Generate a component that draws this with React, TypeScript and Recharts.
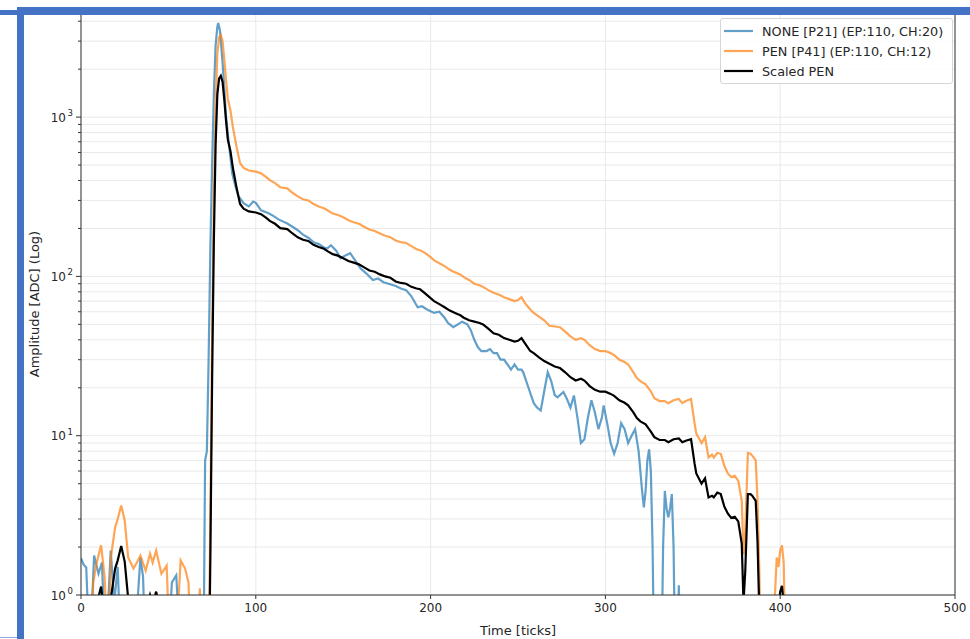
import React from "react";
import { LineChart, Line, XAxis, YAxis, CartesianGrid, Legend, ReferenceLine } from "recharts";

const FONT = "'DejaVu Sans', sans-serif";

// NONE [P21]
const noneT = [
  0, 1.5, 3, 5, 7.5, 10, 12, 14, 17, 19, 21, 23, 25, 30, 32, 34, 35.5, 37, 45, 50, 52, 54.5, 57, 62, 66,
  69, 70, 71, 72, 73, 74, 75, 76, 77, 78, 78.5, 79.5, 81, 82, 83, 84.5, 86.5, 88, 90, 93, 96, 98.5, 100,
  103, 107, 110, 113, 118, 121, 124, 127, 130, 133, 136, 139, 141, 143, 146, 148.5, 151, 154, 157, 160,
  163, 165, 167, 170, 173, 176, 180, 183, 186, 189, 192.6, 195, 198, 202, 205, 208, 210, 213, 215.6, 218,
  221, 223, 225, 227, 229, 232, 234, 236, 238, 240, 242, 244, 246, 248, 250, 252, 253, 256, 259, 261, 263,
  265, 267, 269, 271, 272.6, 274, 276, 278, 280, 282, 284, 286, 288, 290, 292, 294, 296, 298, 299, 301,
  303, 305, 307, 309, 311, 313, 315, 317, 319, 321, 322, 323, 324, 325, 326, 327, 328, 332, 333, 334, 335,
  336, 337, 338, 339, 340, 341, 342, 343, 350,
];
const noneV = [
  1.7, 1.55, 1.49, 0.4, 1.77, 1.36, 1.6, 0.4, 1.9, 0.9, 1.5, 0.4, 0.3, 0.3, 0.8, 1.72, 1.3, 0.4, 0.3, 0.5,
  1.2, 1.33, 0.4, 0.3, 0.4, 0.5, 0.3, 7, 8, 30, 150, 500, 1400, 2800, 3700, 3900, 3500, 2200, 1500, 1000,
  700, 444, 380, 320, 288, 275, 295, 290, 260, 250, 240, 228, 215, 205, 195, 183, 175, 164, 160, 152, 150,
  157, 145, 130, 135, 140, 125, 112, 105, 100, 95, 97, 92, 90, 87, 84, 82, 75, 64, 65, 62, 59, 60, 55, 51,
  48, 50, 52, 50, 46, 40, 36, 34, 34, 35, 33, 33, 30, 30, 28, 26, 28, 26, 26, 25, 20, 16, 15, 14.4, 19,
  25, 22, 18, 17.4, 18, 18.8, 17, 15, 17.9, 13, 9, 9.5, 13, 16.7, 14, 11, 13, 15.5, 12, 9, 7.7, 9, 12, 11,
  9, 10, 11, 8, 4.5, 3.55, 4.5, 7, 8.2, 6, 2, 0.3, 0.3, 2, 4.5, 3.5, 3.07, 3.5, 4.3, 2, 0.3, 0.3, 1.15,
  0.3, 0.3,
];

// PEN [P41] and Scaled PEN share the same tick positions
const penT = [
  0, 3, 5, 7, 9, 11.5, 13.5, 15.5, 17, 19.5, 21, 23, 25, 27, 30, 32, 34, 37, 39.5, 41, 43, 46, 49, 51, 54,
  57, 59.5, 61.5, 63, 66, 68, 69.5, 73, 74, 75, 76, 77, 78, 79, 80, 81, 82, 83, 84, 85.5, 87, 89, 91, 93,
  96, 100, 103, 106, 108, 111, 114, 118, 121, 124, 127, 130, 133, 136, 139, 141, 144, 147, 150, 153, 156,
  159, 162, 165, 168, 171, 174, 177, 180, 183, 186, 189, 192, 194, 197, 200, 202, 205, 208, 211, 214, 217,
  219, 222, 225, 228, 230, 233, 236, 239, 242, 245, 248, 250, 252, 254, 257, 259, 262, 265, 268, 271, 274,
  277, 280, 283, 286, 288, 291, 294, 297, 300, 303, 305, 308, 311, 313, 316, 318, 320, 323, 326, 328, 331,
  334, 336, 339, 342, 344, 346, 349, 351, 352, 355, 357, 359, 361, 362, 364, 366, 368, 370, 372, 374, 376,
  378, 379, 380, 381.5, 383, 384, 386, 387, 388, 389, 396, 397, 398, 399, 400, 401, 402, 403, 410,
];
const penV = [
  0.3, 0.3, 0.4, 1.2, 1.6, 2.05, 1.3, 0.4, 1.7, 2.65, 3.0, 3.65, 2.94, 1.72, 1.47, 1.6, 1.77, 1.42, 1.82,
  1.6, 1.9, 1.36, 1.53, 0.4, 0.4, 1.65, 1.47, 1.2, 0.4, 0.4, 1.1, 0.4, 0.4, 3, 40, 300, 1200, 2500, 3150,
  3270, 3000, 2300, 1700, 1300, 1100, 850, 650, 514, 480, 462, 455, 444, 420, 402, 385, 363, 357, 335, 318,
  305, 300, 285, 275, 268, 260, 248, 243, 235, 225, 219, 214, 205, 197, 193, 186, 180, 176, 168, 164, 162,
  155, 148, 146, 140, 132, 126, 121, 116, 110, 106, 103, 99, 95, 90, 88, 86, 82, 79, 77, 74, 72, 70, 71,
  74, 68, 62, 59, 56, 53, 49, 48.5, 48, 45, 42, 40, 41, 40, 37, 35, 34, 34, 33, 32, 30, 29, 28, 25, 23,
  22, 21, 19, 17.2, 16.5, 16.5, 16, 16.7, 17, 16, 16.5, 17, 12, 10.3, 9, 9.8, 7.3, 7.6, 7.3, 7.8, 7.7,
  6.5, 5.8, 5.5, 5.6, 5.2, 3.9, 1.8, 2.5, 7.8, 7.7, 7.5, 7, 4, 1.5, 0.4, 0.4, 1.0, 1.72, 1.5, 1.9, 2.05,
  1.6, 0.4, 0.3,
];
const scaledV = [
  0.2, 0.2, 0.22, 0.66, 0.88, 1.13, 0.72, 0.22, 0.94, 1.46, 1.65, 2.03, 1.62, 0.95, 0.81, 0.88, 0.97,
  0.78, 1.0, 0.88, 1.05, 0.75, 0.84, 0.22, 0.22, 0.91, 0.81, 0.66, 0.22, 0.22, 0.61, 0.22, 0.22, 1.7, 22,
  167, 666, 1388, 1748, 1815, 1665, 1277, 944, 722, 611, 472, 361, 285, 266, 256, 252, 246, 233, 223, 214,
  201, 198, 186, 176, 170, 167, 158, 153, 149, 144, 138, 135, 130, 125, 122, 119, 114, 109, 107, 103, 100,
  98, 93, 91, 90, 86, 84, 83, 78, 73, 70, 67, 64, 61, 59, 57, 55, 53, 52, 51, 50, 47, 44, 43, 41, 40, 39,
  39.4, 41, 38, 34, 33, 31, 29.4, 28.3, 27.2, 26.6, 25, 23.3, 22.2, 22.8, 22.2, 20.5, 19.4, 18.9, 18.9,
  18.3, 17.8, 16.7, 16.1, 15.5, 14, 12.9, 12.3, 11.8, 10.6, 9.8, 9.4, 9.4, 9.1, 9.5, 9.6, 9.1, 9.3, 9.5,
  6.7, 5.8, 5.0, 5.4, 4.1, 4.2, 4.1, 4.4, 4.3, 3.6, 3.25, 3.05, 3.1, 2.9, 2.1, 0.9, 1.4, 4.3, 4.3, 4.2,
  3.9, 2.2, 0.83, 0.22, 0.22, 0.55, 0.95, 0.83, 1.05, 1.14, 0.89, 0.22, 0.2,
];

const seriesNames = ["NONE [P21] (EP:110, CH:20)", "PEN [P41] (EP:110, CH:12)", "Scaled PEN"];
const xTicks = [0, 100, 200, 300, 400, 500];
const yTicks = [
  1, 2, 3, 4, 5, 6, 7, 8, 9, 10, 20, 30, 40, 50, 60, 70, 80, 90, 100, 200, 300, 400, 500, 600, 700, 800,
  900, 1000, 2000, 3000, 4000,
];

const seriesStyle = [
  { color: "#1f77b4", opacity: 0.7 },
  { color: "#ff7f0e", opacity: 0.7 },
  { color: "#000000", opacity: 1 },
];

const toPoints = (ts: number[], vs: number[]) => ts.map((t, i) => ({ t, v: vs[i] }));

const YTick = (props: any) => {
  const { x, y, payload } = props;
  const lg = Math.log10(payload.value);
  const exp = Math.round(lg);
  const major = Math.abs(lg - exp) < 1e-6;
  return (
    <g>
      <line x1={x - (major ? 5 : 3)} x2={x} y1={y} y2={y} stroke="#333" strokeWidth={1} />
      {major && (
        <text x={x - 15} y={y + 4.5} textAnchor="end" fontSize={12} fill="#262626" fontFamily={FONT}>
          10
        </text>
      )}
      {major && (
        <text x={x - 8} y={y - 1} textAnchor="end" fontSize={8.5} fill="#262626" fontFamily={FONT}>
          {exp}
        </text>
      )}
    </g>
  );
};

const LegendBox = (props: any) => {
  const payload = props.payload || [];
  return (
    <div
      style={{
        border: "1px solid #d6d6d6",
        borderRadius: 3,
        background: "rgba(255,255,255,0.85)",
        padding: "2px 0 2px 3px",
        boxSizing: "border-box",
        width: 233,
        fontFamily: FONT,
      }}
    >
      {payload.map((e: any, i: number) => {
        const idx = seriesNames.indexOf(e.value);
        const st = seriesStyle[idx >= 0 ? idx : i];
        return (
          <div key={e.value} style={{ display: "flex", alignItems: "center", height: 20 }}>
            <svg width={30} height={10}>
              <line x1={0} x2={29} y1={5} y2={5} stroke={st.color} strokeOpacity={st.opacity} strokeWidth={2.2} />
            </svg>
            <span style={{ marginLeft: 8, fontSize: 12.8, color: "#262626", whiteSpace: "nowrap" }}>{e.value}</span>
          </div>
        );
      })}
    </div>
  );
};

const blue = "#4472c4";

export default function App() {
  const series = [
    toPoints(noneT, noneV),
    toPoints(penT, penV),
    toPoints(penT, scaledV),
  ];
  return (
    <div style={{ position: "absolute", left: 0, top: 0, width: 970, height: 639, background: "#fff", fontFamily: FONT }}>
      <LineChart width={970} height={639} margin={{ top: 12, right: 15, bottom: 0, left: 0 }}>
        <CartesianGrid stroke="#e9e9e9" strokeWidth={1} />
        <XAxis
          type="number"
          dataKey="t"
          domain={[0, 500]}
          ticks={xTicks}
          interval={0}
          allowDataOverflow
          height={44}
          tickSize={4}
          tickMargin={4}
          stroke="#333"
          tick={{ fontSize: 12, fill: "#262626", fontFamily: FONT }}
          label={{ value: "Time [ticks]", position: "insideBottom", offset: 4, fontSize: 13, fill: "#262626", fontFamily: FONT }}
        />
        <YAxis
          type="number"
          scale="log"
          domain={[1, 4570]}
          allowDataOverflow
          ticks={yTicks}
          interval={0}
          width={81}
          tickSize={0}
          tickMargin={0}
          stroke="#333"
          tick={<YTick />}
          label={() => (
            <text
              x={35}
              y={304}
              transform="rotate(-90 35 304)"
              textAnchor="middle"
              dominantBaseline="middle"
              fontSize={13}
              fill="#262626"
              fontFamily={FONT}
            >
              Amplitude [ADC] (Log)
            </text>
          )}
        />
        <ReferenceLine x={500} stroke="#333" strokeWidth={1} />
        {series.map((d, i) => (
          <Line
            key={seriesNames[i]}
            data={d}
            dataKey="v"
            name={seriesNames[i]}
            type="linear"
            stroke={seriesStyle[i].color}
            strokeOpacity={seriesStyle[i].opacity}
            strokeWidth={2.2}
            dot={false}
            activeDot={false}
            isAnimationActive={false}
          />
        ))}
        <Legend
          layout="vertical"
          align="center"
          verticalAlign="middle"
          content={<LegendBox />}
          wrapperStyle={{ left: 720, top: 18, width: 233 }}
        />
      </LineChart>
      <div style={{ position: "absolute", left: 17, top: 7, width: 953, height: 8, background: blue }} />
      <div style={{ position: "absolute", left: 17, top: 7, width: 7, height: 632, background: blue }} />
      <div style={{ position: "absolute", left: 0, top: 10, width: 17, height: 5, background: blue }} />
      <div style={{ position: "absolute", left: 0, top: 637, width: 17, height: 1, background: "#8fa9dc" }} />
    </div>
  );
}
